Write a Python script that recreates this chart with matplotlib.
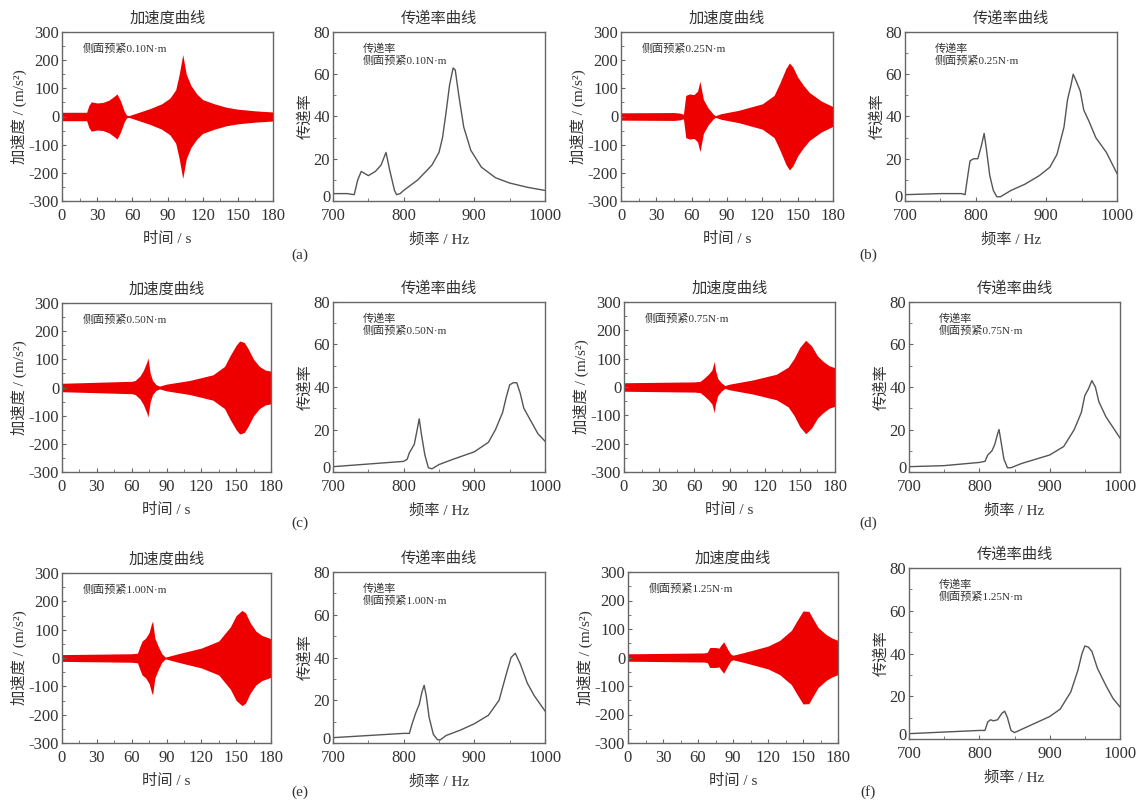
import matplotlib
matplotlib.use("Agg")
import matplotlib.pyplot as plt
import matplotlib.transforms as mtransforms
from matplotlib.ticker import AutoMinorLocator
import numpy as np

plt.rcParams['font.family'] = ['Liberation Serif', 'Noto Sans CJK SC']
plt.rcParams['axes.unicode_minus'] = False

preloads = ["0.10", "0.25", "0.50", "0.75", "1.00", "1.25"]
panel_tags = ["(a)", "(b)", "(c)", "(d)", "(e)", "(f)"]

# acceleration envelopes (time s, amplitude m/s^2)
acc_t = [
    [0, 21, 23, 25, 30, 35, 40, 44, 47, 50, 53, 55, 57, 65, 75, 85, 92, 97, 100, 103, 106, 110, 115, 120, 130, 140, 150, 165, 180],
    [0, 45, 50, 53, 55, 58, 62, 65, 67, 70, 74, 78, 80, 85, 100, 120, 130, 135, 140, 143, 146, 150, 155, 160, 170, 180],
    [0, 60, 63, 67, 70, 73, 74, 76, 78, 81, 84, 90, 110, 130, 140, 145, 150, 153, 157, 160, 165, 170, 175, 180],
    [0, 60, 65, 68, 72, 75, 77, 78, 80, 83, 86, 90, 110, 130, 140, 145, 150, 155, 160, 165, 170, 175, 180],
    [0, 60, 65, 67, 69, 72, 75, 77, 78, 80, 83, 86, 89, 100, 120, 135, 145, 150, 155, 158, 162, 167, 172, 180],
    [0, 65, 68, 70, 75, 78, 80, 82, 84, 86, 88, 90, 100, 120, 130, 140, 145, 150, 155, 158, 163, 170, 175, 180],
]
acc_amp = [
    [15, 15, 40, 52, 48, 50, 58, 70, 80, 55, 20, 5, 3, 14, 28, 45, 65, 95, 150, 220, 150, 110, 80, 60, 45, 33, 26, 20, 16],
    [13, 14, 12, 8, 75, 80, 78, 90, 125, 60, 30, 10, 3, 10, 22, 45, 75, 120, 170, 190, 175, 140, 110, 85, 55, 35],
    [15, 22, 25, 40, 60, 90, 105, 50, 25, 10, 5, 12, 25, 45, 75, 115, 150, 165, 160, 140, 100, 75, 62, 58],
    [15, 18, 20, 30, 45, 60, 90, 60, 30, 15, 5, 10, 25, 45, 70, 100, 140, 165, 145, 110, 90, 75, 68],
    [12, 15, 17, 40, 60, 70, 90, 120, 130, 70, 40, 15, 3, 15, 35, 60, 110, 150, 168, 160, 125, 95, 80, 68],
    [13, 16, 18, 35, 35, 33, 45, 55, 40, 25, 12, 8, 18, 40, 60, 95, 130, 163, 162, 140, 105, 80, 68, 60],
]

# transmissibility curves (frequency Hz, ratio)
tr_f = [
    [700, 720, 730, 735, 740, 750, 760, 768, 775, 780, 787, 790, 795, 800, 820, 840, 850, 855, 860, 865, 870, 873, 878, 885, 895, 910, 930, 950, 975, 1000],
    [700, 750, 780, 785, 788, 792, 797, 803, 808, 812, 815, 820, 825, 830, 835, 850, 870, 890, 905, 915, 925, 930, 935, 938, 942, 948, 953, 960, 970, 985, 1000],
    [700, 800, 805, 808, 815, 818, 822, 825, 830, 835, 840, 850, 870, 900, 920, 930, 940, 945, 950, 955, 960, 965, 970, 980, 990, 1000],
    [700, 750, 800, 808, 812, 818, 822, 826, 828, 831, 835, 840, 845, 860, 880, 900, 920, 935, 945, 950, 955, 960, 965, 970, 980, 990, 1000],
    [700, 800, 808, 812, 817, 822, 826, 829, 832, 836, 842, 848, 852, 860, 880, 900, 920, 935, 945, 952, 958, 965, 975, 985, 1000],
    [700, 800, 808, 812, 816, 820, 826, 832, 836, 840, 845, 850, 860, 880, 900, 915, 930, 940, 946, 950, 955, 960, 968, 980, 990, 1000],
]
tr_val = [
    [3.5, 3.5, 3, 10, 14, 12, 14, 17, 23, 15, 5, 3, 3.5, 5, 10, 17, 23, 30, 42, 55, 63, 62, 50, 35, 24, 16, 11, 8.5, 6.5, 5],
    [3, 3.5, 3.5, 3, 10, 19, 20, 20, 26, 32, 25, 12, 5, 2, 2, 5, 8, 12, 16, 22, 35, 48, 55, 60, 57, 52, 43, 38, 30, 23, 13],
    [2.5, 5, 6, 9, 13, 18, 25, 18, 8, 2, 1.5, 3.5, 6, 9.5, 14, 20, 28, 35, 41, 42, 42, 37, 30, 24, 18, 14.5],
    [2.5, 3, 4.5, 5, 8, 10, 13, 18, 20, 14, 6, 2, 2, 4, 6, 8, 12, 20, 28, 36, 39, 43, 40, 33, 26, 21, 16],
    [2.5, 4.5, 4.5, 9, 14, 18, 24, 27, 22, 12, 4, 1.5, 1.5, 3.5, 6, 9, 13, 20, 32, 40, 42, 37, 28, 22, 15],
    [2.5, 4, 4, 8, 9, 8.5, 9, 12, 13, 10, 4, 3, 4.5, 7.5, 10.5, 14, 22, 32, 40, 43.5, 43, 41, 33, 25, 19, 15],
]

W, H = 1137, 800
# pixel boxes (left, right, top, bottom) for accel and transmissibility axes
acc_boxes = [(62, 273, 32, 201), (621, 833, 32, 201), (62, 271, 303, 472),
             (624, 835, 302, 472), (62, 271, 573, 743), (628, 838, 572, 743)]
tr_boxes = [(333, 545, 32, 201), (905, 1117, 32, 201), (333, 545, 302, 472),
            (909, 1120, 302, 472), (333, 545, 572, 743), (909, 1120, 568, 739)]
tag_pos = [(300, 255), (868, 255), (300, 523), (868, 523), (300, 792), (868, 792)]

txt = '#333333'
edge = '#666666'


def make_ax(fig, box):
    l, r, t, b = box
    ax = fig.add_axes([l / W, 1 - b / H, (r - l) / W, (b - t) / H])
    for s in ax.spines.values():
        s.set_color(edge)
        s.set_linewidth(1.0)
    ax.xaxis.set_minor_locator(AutoMinorLocator(2))
    ax.yaxis.set_minor_locator(AutoMinorLocator(2))
    ax.tick_params(which='both', direction='in', colors=edge, labelcolor=txt,
                   labelsize=12)
    ax.tick_params(axis='x', pad=5)
    ax.tick_params(axis='y', pad=2)
    ax.tick_params(which='major', length=3)
    ax.tick_params(which='minor', length=2)
    ax.tick_params(top=False, right=False, which='both')
    return ax


fig = plt.figure(figsize=(W / 100, H / 100), dpi=100)
lift = mtransforms.ScaledTranslation(0, 3.5 / 72, fig.dpi_scale_trans)

for i in range(6):
    ax = make_ax(fig, acc_boxes[i])
    t = np.array(acc_t[i])
    a = np.array(acc_amp[i])
    ax.fill_between(t, -a, a, color='#ee0000', linewidth=0)
    ax.set_xlim(0, 180)
    ax.set_ylim(-300, 300)
    ax.set_xticks(np.arange(0, 181, 30))
    ax.set_yticks(np.arange(-300, 301, 100))
    ax.set_title('加速度曲线', fontsize=11, color=txt, pad=7)
    ax.set_xlabel('时间 / s', fontsize=11, color=txt, labelpad=6)
    ax.set_ylabel('加速度 / (m/s²)', fontsize=11, color=txt, labelpad=1)
    ax.text(0.1, 0.9, '侧面预紧' + preloads[i] + 'N·m', transform=ax.transAxes,
            fontsize=8, color=txt, va='center', ha='left')

    ax2 = make_ax(fig, tr_boxes[i])
    ax2.plot(tr_f[i], tr_val[i], color='#555555', lw=1.0)
    ax2.set_xlim(700, 1000)
    ax2.set_ylim(0, 80)
    ax2.set_xticks([700, 800, 900, 1000])
    ax2.set_yticks(np.arange(0, 81, 20))
    # the "0" sits a little above the corner, clear of "700"
    lab0 = ax2.get_yticklabels()[0]
    lab0.set_transform(lab0.get_transform() + lift)
    ax2.set_title('传递率曲线', fontsize=11, color=txt, pad=7)
    ax2.set_xlabel('频率 / Hz', fontsize=11, color=txt, labelpad=6)
    ax2.set_ylabel('传递率', fontsize=11, color=txt, labelpad=1)
    ax2.text(0.14, 0.9, '传递率', transform=ax2.transAxes,
             fontsize=8, color=txt, va='center', ha='left')
    ax2.text(0.14, 0.83, '侧面预紧' + preloads[i] + 'N·m', transform=ax2.transAxes,
             fontsize=8, color=txt, va='center', ha='left')

    x, y = tag_pos[i]
    fig.text(x / W, 1 - y / H, panel_tags[i], fontsize=11, color=txt,
             ha='center', va='center')

fig.savefig('out.png', dpi=100, facecolor='white')
